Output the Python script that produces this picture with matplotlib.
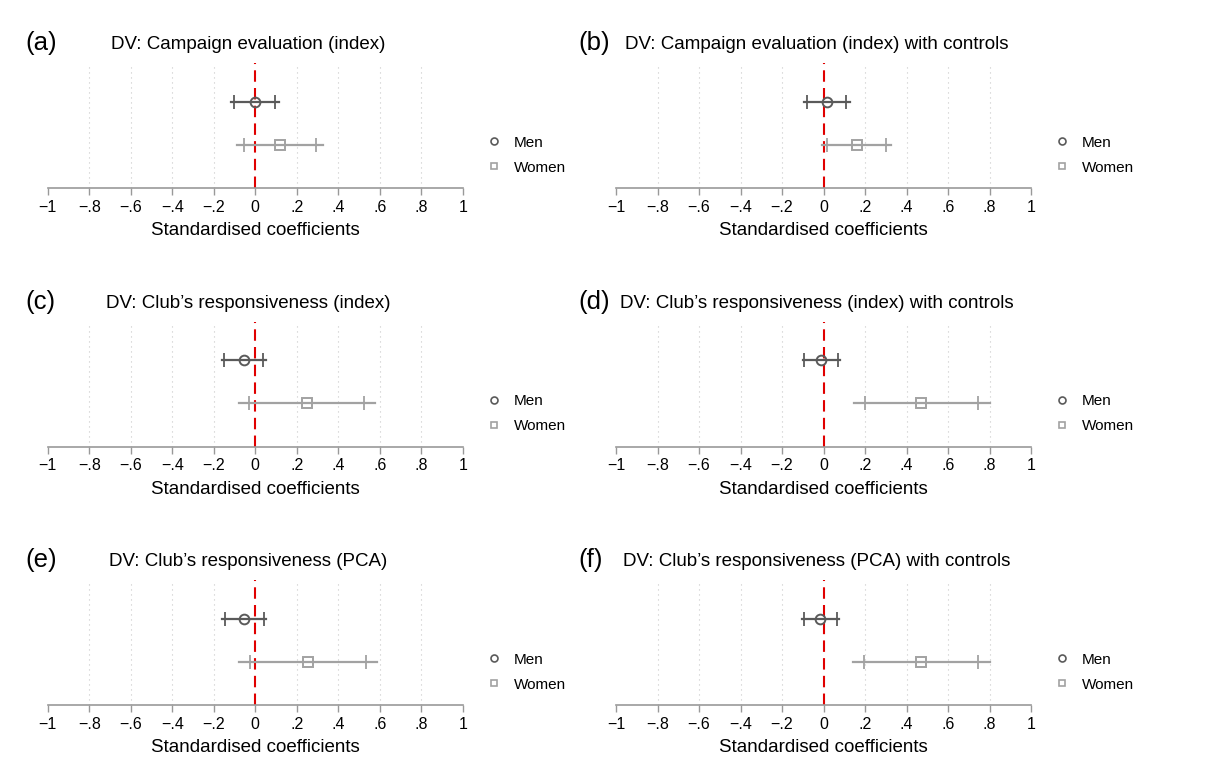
import numpy as np
import matplotlib.pyplot as plt
from matplotlib.lines import Line2D

plt.rcParams['font.family'] = ['Liberation Sans', 'DejaVu Sans']

# Panel labels and titles
panels = ["(a)", "(b)", "(c)", "(d)", "(e)", "(f)"]
titles = ["DV: Campaign evaluation (index)",
          "DV: Campaign evaluation (index) with controls",
          "DV: Club\u2019s responsiveness (index)",
          "DV: Club\u2019s responsiveness (index) with controls",
          "DV: Club\u2019s responsiveness (PCA)",
          "DV: Club\u2019s responsiveness (PCA) with controls"]

# Men: estimate, 95% CI, 90% CI
men_est = [-0.003, 0.016, -0.054, -0.011, -0.053, -0.015]
men_lo95 = [-0.117, -0.093, -0.160, -0.100, -0.159, -0.105]
men_hi95 = [0.114, 0.126, 0.053, 0.080, 0.054, 0.077]
men_lo90 = [-0.104, -0.080, -0.148, -0.092, -0.144, -0.096]
men_hi90 = [0.096, 0.110, 0.037, 0.068, 0.040, 0.064]

# Women: estimate, 95% CI, 90% CI
women_est = [0.118, 0.160, 0.249, 0.472, 0.253, 0.469]
women_lo95 = [-0.088, -0.006, -0.080, 0.146, -0.080, 0.141]
women_hi95 = [0.325, 0.325, 0.578, 0.800, 0.588, 0.800]
women_lo90 = [-0.056, 0.019, -0.029, 0.199, -0.026, 0.195]
women_hi90 = [0.293, 0.300, 0.525, 0.746, 0.534, 0.745]

tick_vals = [-1, -0.8, -0.6, -0.4, -0.2, 0, 0.2, 0.4, 0.6, 0.8, 1]
tick_labels = ["\u22121", "\u2212.8", "\u2212.6", "\u2212.4", "\u2212.2", "0",
               ".2", ".4", ".6", ".8", "1"]

MEN_COL = "#5a5a5a"
WOMEN_COL = "#a2a2a2"
W, H = 1206, 778

fig = plt.figure(figsize=(W / 100, H / 100), dpi=100)

lefts = [47.7, 616]
label_x = [25, 578]
tops = [63, 321.5, 580]
aw, ah = 415, 125

for i in range(6):
    row, col = i // 2, i % 2
    ax = fig.add_axes([lefts[col] / W, 1 - (tops[row] + ah) / H, aw / W, ah / H])

    # dotted grid
    for t in tick_vals[1:-1]:
        if t != 0:
            ax.axvline(t, color="#c8c8c8", lw=0.8, ls=(0, (1, 3.5)), zorder=0)
    ax.axvline(0, color="#e00000", lw=1.5, ls=(0, (5.5, 3)), zorder=1)

    for y, est, lo95, hi95, lo90, hi90, col_, mk in [
            (1, men_est[i], men_lo95[i], men_hi95[i], men_lo90[i], men_hi90[i], MEN_COL, "o"),
            (2, women_est[i], women_lo95[i], women_hi95[i], women_lo90[i], women_hi90[i], WOMEN_COL, "s")]:
        ax.plot([lo95, hi95], [y, y], color=col_, lw=1.6, zorder=2)
        ax.plot([lo90, hi90], [y, y], ls="none", marker="|", ms=10,
                mew=1.3, color=col_, zorder=3)
        ax.plot([est], [y], ls="none", marker=mk, ms=7, mfc="none",
                mec=col_, mew=1.4, zorder=4)

    ax.set_xlim(-1, 1)
    ax.set_ylim(3.0, 0.1)
    ax.set_yticks([])
    ax.set_xticks(tick_vals)
    ax.set_xticklabels(tick_labels, fontsize=11.5)
    ax.tick_params(axis="x", length=5, width=1, color="#999999", pad=3.5)
    for s in ["left", "top", "right"]:
        ax.spines[s].set_visible(False)
    ax.spines["bottom"].set_color("#999999")
    ax.spines["bottom"].set_linewidth(1.2)
    ax.set_xlabel("Standardised coefficients", fontsize=13.5, labelpad=5.5)
    ax.set_title(titles[i], fontsize=13.5, x=0.483, pad=10)

    handles = [Line2D([], [], ls="none", marker="o", ms=5, mfc="none",
                      mec=MEN_COL, mew=1.2),
               Line2D([], [], ls="none", marker="s", ms=5, mfc="none",
                      mec=WOMEN_COL, mew=1.2)]
    ax.legend(handles, ["Men", "Women"], loc="center left",
              bbox_to_anchor=(1.057, 0.262), frameon=False, fontsize=11,
              handlelength=1, handletextpad=0.8, labelspacing=0.72,
              borderpad=0, borderaxespad=0)

    fig.text(label_x[col] / W, 1 - (tops[row] - 13) / H, panels[i],
             fontsize=18.5, ha="left", va="baseline")

fig.savefig("out.png", dpi=100)
